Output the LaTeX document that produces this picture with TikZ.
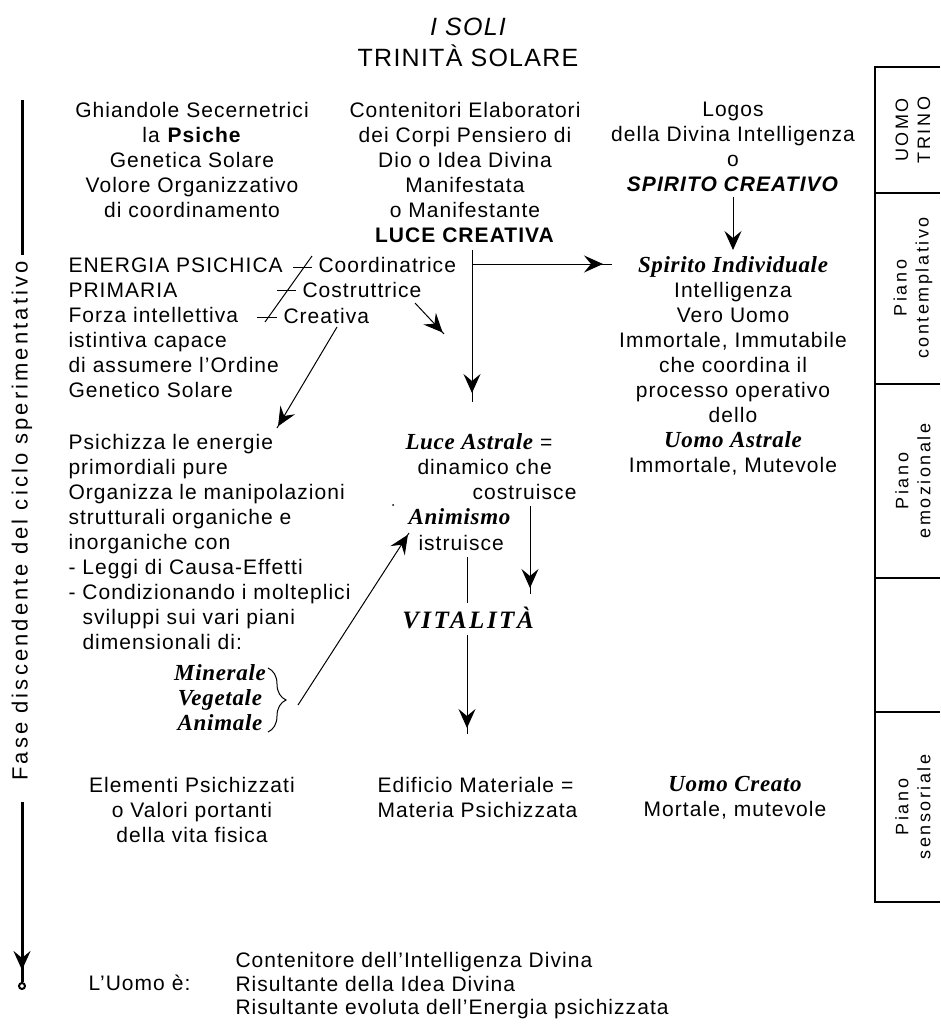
\documentclass[tikz,border=0pt]{standalone}
\usepackage{fontspec}
\setmainfont{Liberation Sans}[LetterSpace=5]
\newfontfamily\romfont{Liberation Serif}[LetterSpace=3]
\usetikzlibrary{arrows.meta,decorations.pathreplacing,decorations.markings}
\newcommand{\bi}[1]{{\fontsize{23}{25}\selectfont\romfont\bfseries\itshape #1}}
\newcommand{\bsi}[1]{\textbf{\textit{#1}}}

\begin{document}
\begin{tikzpicture}[x=1pt, y=-1pt, line width=1pt,
    every node/.style={inner sep=0pt, font=\fontsize{21}{25}\selectfont},
    blocco/.style={align=center, anchor=north},
    sinistra/.style={align=left, anchor=north west},
    punta/.style={postaction={decorate}, decoration={markings,
        mark=at position -#1 with {\arrow{Stealth[length=19pt,width=17pt,inset=7pt]}}}},
    punta/.default=8pt,
    piano/.style={rotate=90, align=center, font=\fontsize{18}{22}\selectfont\addfontfeatures{LetterSpace=14}},
    spessa/.style={line width=3pt},
    bordo/.style={line width=2pt}]
    \useasboundingbox (0,0) rectangle (940,1030);
    % titolo
    \node (soli) at (468,27) {\fontsize{25}{30}\selectfont\itshape I SOLI};
    \node (trinita) at (468,56) {\fontsize{25}{30}\selectfont TRINITÀ SOLARE};
    % prima riga
    \node[blocco] (ghiandole) at (192,102) {Ghiandole Secernetrici\\ la \textbf{Psiche}\\ Genetica Solare\\ Volore Organizzativo\\ di coordinamento};
    \node[blocco] (contenitori) at (465,102) {Contenitori Elaboratori\\ dei Corpi Pensiero di\\ Dio o Idea Divina\\ Manifestata\\ o Manifestante\\ \textbf{LUCE CREATIVA}};
    \node[blocco] (logos) at (733,102) {Logos\\ della Divina Intelligenza\\ o\\ \bsi{SPIRITO CREATIVO}};
    \node[blocco] (individuale) at (733,256) {\bi{Spirito Individuale}\\ Intelligenza\\ Vero Uomo\\ Immortale, Immutabile\\ che coordina il\\ processo operativo\\ dello\\ \bi{Uomo Astrale}\\ Immortale, Mutevole};
    \draw[punta=6pt, shorten <=4pt, shorten >=16pt] (logos) -- (individuale);
    % luce creativa
    \coordinate (luce) at (472,250);
    \coordinate (luceGiu) at (472,402);
    \coordinate (luceDx) at (612,264);
    \draw[punta=9pt] (luce) -- (luceGiu);
    \draw[punta=9pt] (luce |- luceDx) -- (luceDx);
    % energia psichica
    \node[sinistra] (energia) at (68,257) {ENERGIA PSICHICA\\ PRIMARIA\\ Forza intellettiva\\ istintiva capace\\ di assumere l'Ordine\\ Genetico Solare};
    \node[anchor=west] (coordinatrice) at (318,265) {Coordinatrice};
    \node[anchor=west] (costruttrice) at (302,290) {Costruttrice};
    \node[anchor=west] (creativa) at (283,316) {Creativa};
    \draw (312,256) -- (265,322);
    \draw (293,267) -- (312,267);
    \draw (277,290) -- (296,290);
    \draw (257,317) -- (277,317);
    \coordinate (creaA) at (337,327);
    \coordinate (creaB) at (277,428);
    \draw[punta=2pt] (creaA) -- (creaB);
    \coordinate (costA) at (415,303);
    \coordinate (costB) at (444,334);
    \draw[punta=2pt] (costA) -- (costB);
    % psichizza
    \node[sinistra] (psichizza) at (68,434) {Psichizza le energie\\ primordiali pure\\ Organizza le manipolazioni\\ strutturali organiche e\\ inorganiche con\\ - Leggi di Causa-Effetti\\ - Condizionando i molteplici\\ \hspace*{14pt}sviluppi sui vari piani\\ \hspace*{14pt}dimensionali di:};
    \node[blocco] (regni) at (220,664) {\bi{Minerale}\\ \bi{Vegetale}\\ \bi{Animale}};
    \draw[decorate, decoration={brace, amplitude=18pt}] (268,668) -- (268,732);
    \coordinate (regniA) at (298,705);
    \coordinate (regniB) at (409,533);
    \draw[punta=2pt] (regniA) -- (regniB);
    % colonna centrale
    \node[anchor=west] (astrale) at (405,442) {\bi{Luce Astrale} =};
    \node[anchor=west] (dinamico) at (417,467) {dinamico che};
    \node[anchor=west] (costruisce) at (472,492) {costruisce};
    \node[anchor=west] (animismo) at (408,517) {\bi{Animismo}};
    \node[anchor=west] (istruisce) at (418,543) {istruisce};
    \node (vitalita) at (468,618) {\fontsize{25}{28}\selectfont\romfont\bfseries\itshape\addfontfeatures{LetterSpace=10}VITALITÀ};
    \fill (393,505) circle (1);
    \coordinate (costrA) at (530,506);
    \coordinate (costrB) at (530,594);
    \draw[punta=6pt] (costrA) -- (costrB);
    \coordinate (istrA) at (467,557);
    \coordinate (istrB) at (467,603);
    \draw (istrA) -- (istrB);
    \coordinate (vitA) at (467,635);
    \coordinate (vitB) at (467,734);
    \draw[punta=6pt] (vitA) -- (vitB);
    % ultima riga
    \node[blocco] (elementi) at (192,777) {Elementi Psichizzati\\ o Valori portanti\\ della vita fisica};
    \node[sinistra] (edificio) at (377,777) {Edificio Materiale =\\ Materia Psichizzata};
    \node[blocco] (creato) at (735,776) {\bi{Uomo Creato}\\ Mortale, mutevole};
    % l'uomo e'
    \node[anchor=west] (uomo) at (88,983) {L'Uomo è:};
    \node[sinistra, font=\fontsize{21}{23.5}\selectfont] (risultanti) at (235,952) {Contenitore dell'Intelligenza Divina\\ Risultante della Idea Divina\\ Risultante evoluta dell'Energia psichizzata};
    % fase discendente
    \node[rotate=90, font=\fontsize{22}{25}\selectfont\addfontfeatures{LetterSpace=14}] (fase) at (22,521) {Fase discendente del ciclo sperimentativo};
    \coordinate (faseSu) at (22,100);
    \coordinate (faseGiu) at (22,982);
    \draw[spessa, shorten >=6pt] (faseSu) -- (fase.east);
    \draw[spessa, punta=12pt, shorten <=21pt] (fase.west) -- (faseGiu);
    \draw[line width=2pt, fill=white] (22,986) circle (3);
    % piani
    \draw[bordo] (940,67) -- (875,67) -- (875,902) -- (940,902);
    \draw[bordo] (875,193) -- (940,193);
    \draw[bordo] (875,384) -- (940,384);
    \draw[bordo] (875,578) -- (940,578);
    \draw[bordo] (875,712) -- (940,712);
    \node[piano] (trino) at (913,130) {UOMO\\ TRINO};
    \node[piano] (contemplativo) at (913,288) {Piano\\ contemplativo};
    \node[piano] (emozionale) at (913,481) {Piano\\ emozionale};
    \node[piano] (sensoriale) at (913,807) {Piano\\ sensoriale};
\end{tikzpicture}
\end{document}
